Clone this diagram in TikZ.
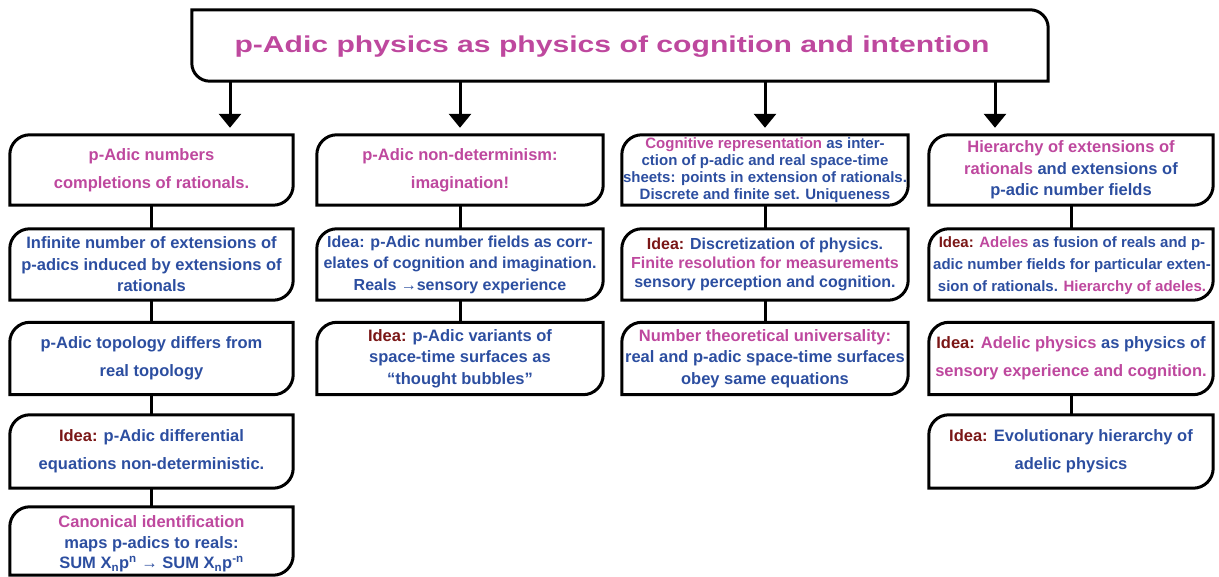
\documentclass[tikz,border=0pt]{standalone}
\usepackage{fontspec}
\setmainfont{Liberation Sans}
\usetikzlibrary{arrows.meta}
\definecolor{mag}{RGB}{190,72,158}
\definecolor{blu}{RGB}{44,78,160}
\definecolor{dred}{RGB}{122,22,22}
\newcommand\mg[1]{\textcolor{mag}{#1}}
\newcommand\bl[1]{\textcolor{blu}{#1}}
\newcommand\idea{\textcolor{dred}{Idea:}}
% box with rounded top-left and bottom-right corners
\newcommand\tlbrbox[2][20pt]{%
  \draw[boxline] (#2.south west) -- ([yshift=-#1]#2.north west)
    arc[start angle=180,end angle=90,radius=#1] -- (#2.north east)
    -- ([yshift=#1]#2.south east)
    arc[start angle=0,end angle=-90,radius=#1] -- cycle;}
% box with rounded top-right and bottom-left corners
\newcommand\trblbox[2][18pt]{%
  \draw[boxline] (#2.north west) -- ([xshift=-#1]#2.north east)
    arc[start angle=90,end angle=0,radius=#1] -- (#2.south east)
    -- ([xshift=#1]#2.south west)
    arc[start angle=270,end angle=180,radius=#1] -- cycle;}
\tikzset{
  boxline/.style={line width=3pt, black},
  cbox/.style n args={2}{minimum width=#1pt, minimum height=#2pt, inner sep=0pt, draw=none},
  conn/.style={line width=3pt, black},
  arr/.style={line width=3pt, black, -{Triangle[width=22pt,length=14pt]}, shorten >=7pt},
  txtA/.style={align=center, inner sep=0pt, text=blu, font=\fontsize{16.5pt}{28pt}\selectfont\bfseries},
  txtB/.style={align=center, inner sep=0pt, text=blu, font=\fontsize{16.5pt}{21.5pt}\selectfont\bfseries},
  txtC/.style={align=center, inner sep=0pt, text=blu, font=\fontsize{15pt}{16.8pt}\selectfont\bfseries},
}
\begin{document}
\begin{tikzpicture}[x=1pt,y=-1pt]
\useasboundingbox (0,0) rectangle (1219,577);
% top box
\node[cbox={856}{71}] (top) at (620,45.5) {};
\trblbox{top}
\node[font=\fontsize{23pt}{28pt}\selectfont\bfseries, text=mag, inner sep=0pt] (title) at (612,46.5)
  {\scalebox{1.31}[1]{p-Adic physics as physics of cognition and intention}};

% column 1
\node[cbox={283}{70}] (a1) at (151.5,170) {};
\node[cbox={283}{71}] (a2) at (151.5,264.5) {};
\node[cbox={283}{72}] (a3) at (151.5,358.5) {};
\node[cbox={283}{73}] (a4) at (151.5,451.5) {};
\node[cbox={283}{68}] (a5) at (151.5,541) {};
% column 2
\node[cbox={286}{70}] (b1) at (460,170) {};
\node[cbox={286}{71}] (b2) at (460,264.5) {};
\node[cbox={286}{72}] (b3) at (460,358.5) {};
% column 3
\node[cbox={286}{70}] (c1) at (765,170) {};
\node[cbox={286}{71}] (c2) at (765,264.5) {};
\node[cbox={286}{72}] (c3) at (765,358.5) {};
% column 4
\node[cbox={284}{70}] (d1) at (1071,170) {};
\node[cbox={284}{71}] (d2) at (1071,264.5) {};
\node[cbox={284}{72}] (d3) at (1071,358.5) {};
\node[cbox={284}{73}] (d4) at (1071,451.5) {};

\foreach \n in {a1,a2,a3,a4,a5,b1,b2,b3,c1,c2,c3,d1,d2,d3,d4} {\tlbrbox{\n}}

% connectors
\draw[conn] (a1) -- (a2);
\draw[conn] (a2) -- (a3);
\draw[conn] (a3) -- (a4);
\draw[conn] (a4) -- (a5);
\draw[conn] (b1) -- (b2);
\draw[conn] (b2) -- (b3);
\draw[conn] (c1) -- (c2);
\draw[conn] (c2) -- (c3);
\draw[conn] (d1) -- (d2);
\draw[conn] (d3) -- (d4);

% arrows from the title box
\coordinate (x1) at (230,0);
\coordinate (x2) at (460,0);
\coordinate (x3) at (765,0);
\coordinate (x4) at (995,0);
\draw[arr] (top.south -| x1) -- (a1.north -| x1);
\draw[arr] (top.south -| x2) -- (b1.north -| x2);
\draw[arr] (top.south -| x3) -- (c1.north -| x3);
\draw[arr] (top.south -| x4) -- (d1.north -| x4);

% texts column 1
\node[txtA] (ta1) at (a1) {\mg{p-Adic numbers}\\\mg{completions of rationals.}};
\node[txtB] (ta2) at (a2) {Infinite number of extensions of\\p-adics induced by extensions of\\rationals};
\node[txtA] (ta3) at (a3) {p-Adic topology differs from\\real topology};
\node[txtA] (ta4) at (a4) {\idea{} p-Adic differential\\equations non-deterministic.};
\node[txtB, font=\fontsize{16.5pt}{20.5pt}\selectfont\bfseries] (ta5) at (151.5,544) {\mg{Canonical identification}\\maps p-adics to reals:\\SUM X\textsubscript{n}p\textsuperscript{n} \textrightarrow{} SUM X\textsubscript{n}p\textsuperscript{-n}};
% texts column 2
\node[txtA] (tb1) at (b1) {\mg{p-Adic non-determinism:}\\\mg{imagination!}};
\node[txtB, font=\fontsize{16pt}{21.5pt}\selectfont\bfseries] (tb2) at (b2) {Idea: p-Adic number fields as corr-\\elates of cognition and imagination.\\Reals \textrightarrow sensory experience};
\node[txtB] (tb3) at (b3) {\idea{} p-Adic variants of\\space-time surfaces as\\“thought bubbles”};
% texts column 3
\node[txtC] (tc1) at (c1) {\mg{Cognitive representation} as inter-\\ction of p-adic and real space-time\\sheets: points in extension of rationals.\\Discrete and finite set. Uniqueness};
\node[txtB, font=\fontsize{16pt}{19pt}\selectfont\bfseries] (tc2) at (c2) {\idea{} Discretization of physics.\\\mg{Finite resolution for measurements}\\sensory perception and cognition.};
\node[txtB] (tc3) at (c3) {\mg{Number theoretical universality:}\\real and p-adic space-time surfaces\\obey same equations};
% texts column 4
\node[txtB] (td1) at (d1) {\mg{Hierarchy of extensions of}\\\mg{rationals} and extensions of\\p-adic number fields};
\node[txtB, font=\fontsize{15pt}{22pt}\selectfont\bfseries] (td2) at (1072,265.5) {\idea{} \mg{Adeles} as fusion of reals and p-\\adic number fields for particular exten-\\sion of rationals. \mg{Hierarchy of adeles.}};
\node[txtA] (td3) at (d3) {\idea{} \mg{Adelic physics} as physics of\\\mg{sensory experience and cognition.}};
\node[txtA] (td4) at (d4) {\idea{} Evolutionary hierarchy of\\adelic physics};
\end{tikzpicture}
\end{document}
